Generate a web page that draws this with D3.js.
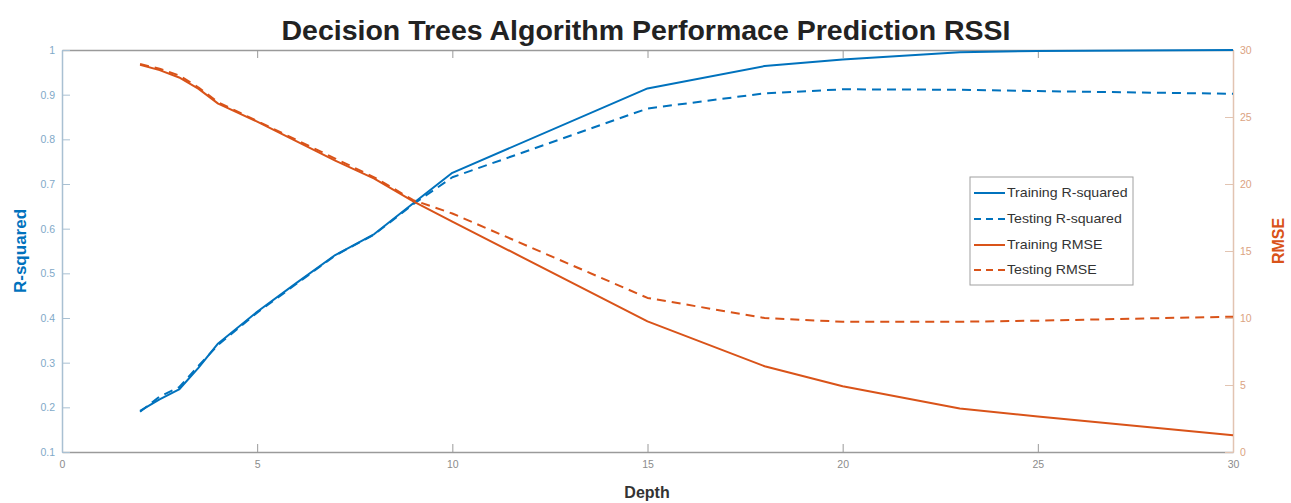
<!DOCTYPE html>
<html>
<head>
<meta charset="utf-8">
<script src="https://cdn.jsdelivr.net/npm/d3@7"></script>
<style>
  html, body { margin: 0; padding: 0; background: #fff; }
  svg { display: block; font-family: "Liberation Sans", Arial, sans-serif; }
</style>
</head>
<body>
<svg id="chart" width="1291" height="503"></svg>
<script>
// ---- data ----
const depth        = [2, 2.5, 3, 3.5, 4, 5, 6, 7, 8, 9, 10, 15, 18, 20, 23, 25, 30];
const trainR2      = [0.192, 0.218, 0.240, 0.289, 0.343, 0.414, 0.478, 0.541, 0.588, 0.657, 0.725, 0.914, 0.964, 0.979, 0.995, 0.998, 1.0];
const testR2       = [0.190, 0.224, 0.245, 0.293, 0.340, 0.412, 0.476, 0.540, 0.587, 0.655, 0.715, 0.869, 0.903, 0.912, 0.911, 0.908, 0.902];
const trainRMSE    = [28.9, 28.5, 27.95, 27.1, 26.0, 24.65, 23.2, 21.75, 20.4, 18.7, 17.2, 9.75, 6.4, 4.9, 3.25, 2.65, 1.25];
const testRMSE     = [28.95, 28.6, 28.1, 27.2, 26.1, 24.7, 23.3, 21.9, 20.5, 18.8, 17.8, 11.5, 10.0, 9.72, 9.72, 9.8, 10.1];
const xTicks       = [0, 5, 10, 15, 20, 25, 30];
const leftTicks    = [0.1, 0.2, 0.3, 0.4, 0.5, 0.6, 0.7, 0.8, 0.9, 1];
const rightTicks   = [0, 5, 10, 15, 20, 25, 30];
const seriesNames  = ["Training R-squared", "Testing R-squared", "Training RMSE", "Testing RMSE"];
const titleText    = "Decision Trees Algorithm Performace Prediction RSSI";

// ---- layout ----
const svg = d3.select("#chart");
const L = 62, R = 1233, T = 50, B = 452;
const blue = "#0072BD", orange = "#D95319";

const x  = d3.scaleLinear().domain([0, 30]).range([L, R]);
const yL = d3.scaleLinear().domain([0.1, 1]).range([B, T]);
const yR = d3.scaleLinear().domain([0, 30]).range([B, T]);

// axes
const gx = svg.append("g").attr("transform", `translate(0,${B})`)
  .call(d3.axisBottom(x).tickValues(xTicks).tickFormat(d3.format("d")).tickSize(-8).tickSizeOuter(0).tickPadding(9));
gx.select(".domain").attr("stroke", "#9a9a9a").attr("stroke-width", 1.5);
gx.selectAll(".tick line").attr("stroke", "#9a9a9a");
gx.selectAll(".tick text").attr("fill", "#8c8c8c").style("font-size", "10.5px");

const gt = svg.append("g").attr("transform", `translate(0,${T})`)
  .call(d3.axisTop(x).tickValues(xTicks).tickFormat("").tickSize(-8).tickSizeOuter(0));
gt.select(".domain").attr("stroke", "#9a9a9a").attr("stroke-width", 1.5);
gt.selectAll(".tick line").attr("stroke", "#9a9a9a");

const gl = svg.append("g").attr("transform", `translate(${L},0)`)
  .call(d3.axisLeft(yL).tickValues(leftTicks).tickFormat(d => d === 1 ? "1" : d3.format(".1f")(d)).tickSize(-8).tickSizeOuter(0).tickPadding(7));
gl.select(".domain").attr("stroke", "#a9c0d2").attr("stroke-width", 1.5);
gl.selectAll(".tick line").attr("stroke", "#a9c0d2");
gl.selectAll(".tick text").attr("fill", "#7fa9c8").style("font-size", "10.5px");

const gr = svg.append("g").attr("transform", `translate(${R},0)`)
  .call(d3.axisRight(yR).tickValues(rightTicks).tickFormat(d3.format("d")).tickSize(-8).tickSizeOuter(0).tickPadding(7));
gr.select(".domain").attr("stroke", "#e2c4b2").attr("stroke-width", 1.5);
gr.selectAll(".tick line").attr("stroke", "#e2c4b2");
gr.selectAll(".tick text").attr("fill", "#dba382").style("font-size", "10.5px");

// lines
const mkLine = (ys, yScale) => d3.line().x((d, i) => x(depth[i])).y((d, i) => yScale(ys[i]))(depth);
const series = [
  { vals: trainR2,   scale: yL, color: blue,   dash: null },
  { vals: testR2,    scale: yL, color: blue,   dash: "9,6" },
  { vals: trainRMSE, scale: yR, color: orange, dash: null },
  { vals: testRMSE,  scale: yR, color: orange, dash: "9,6" }
];
series.forEach(s => {
  svg.append("path")
    .attr("d", mkLine(s.vals, s.scale))
    .attr("fill", "none")
    .attr("stroke", s.color)
    .attr("stroke-width", 2)
    .attr("stroke-dasharray", s.dash)
    .attr("stroke-linejoin", "round");
});

// title and axis labels
svg.append("text").attr("x", 646).attr("y", 40).attr("text-anchor", "middle")
  .style("font-size", "28.5px").style("font-weight", "bold").attr("fill", "#222").text(titleText);
svg.append("text").attr("x", 647).attr("y", 498).attr("text-anchor", "middle")
  .style("font-size", "16px").style("font-weight", "bold").attr("fill", "#333").text("Depth");
svg.append("text").attr("transform", `translate(26,${(T + B) / 2}) rotate(-90)`).attr("text-anchor", "middle")
  .style("font-size", "17px").style("font-weight", "bold").attr("fill", blue).text("R-squared");
svg.append("text").attr("transform", `translate(1278,241) rotate(-90)`).attr("text-anchor", "middle")
  .attr("dy", "0.35em")
  .style("font-size", "16px").style("font-weight", "bold").attr("fill", orange).text("RMSE");

// legend
const lg = svg.append("g");
lg.append("rect").attr("x", 970).attr("y", 177).attr("width", 163).attr("height", 108)
  .attr("fill", "#fff").attr("stroke", "#a0a0a0").attr("stroke-width", 1);
const legY = [193, 219, 245, 270];
series.forEach((s, i) => {
  lg.append("line").attr("x1", 974).attr("x2", 1005).attr("y1", legY[i]).attr("y2", legY[i])
    .attr("stroke", s.color).attr("stroke-width", 2).attr("stroke-dasharray", s.dash ? "7,5" : null);
  lg.append("text").attr("transform", `translate(1007,${legY[i]}) scale(1.18,1)`).attr("dy", "0.35em")
    .style("font-size", "12px").attr("fill", "#333").text(seriesNames[i]);
});
</script>
</body>
</html>
